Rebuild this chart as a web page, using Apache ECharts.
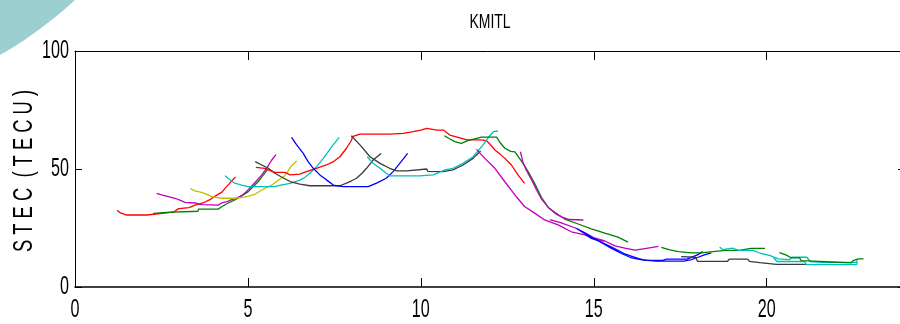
<!DOCTYPE html>
<html>
<head>
<meta charset="utf-8">
<script src="https://cdn.jsdelivr.net/npm/echarts@6/dist/echarts.min.js"></script>
<style>
  html, body { margin: 0; padding: 0; background: #ffffff; }
  #chart { width: 900px; height: 324px; }
</style>
</head>
<body>
<div id="chart"></div>
<script>
// Slant TEC per satellite pass, [local time (h), STEC (TECU)]
const redA = [[1.22,32.5],[1.3,31.5],[1.49,30.5],[2.07,30.5],[2.1,31],[2.6,31.3],[2.85,31.8],[3.0,33.2],[3.3,33.6],[3.45,34.6],[3.7,35.6],[3.9,37],[4.05,38.5],[4.25,40.2],[4.35,42],[4.45,43.6],[4.55,45.3],[4.64,46.6]];
const greenA = [[2.26,31.2],[2.65,31.6],[2.66,32.1],[3.56,32.1],[3.57,33],[4.14,33],[4.24,34],[4.42,35.5],[4.62,36.9],[4.82,38.6],[5.01,40.4],[5.15,42.5],[5.3,44.7],[5.42,47],[5.56,49.6]];
const magentaA = [[2.36,39.7],[2.5,39],[2.7,38.3],[2.89,37.6],[3.05,36.7],[3.18,35.9],[3.47,35.6],[3.66,34.9],[4.14,34.7],[4.24,35.6],[4.4,36.2],[4.53,37],[4.68,37.8],[4.82,38.7],[4.96,40.5],[5.1,42.6],[5.25,45],[5.4,47.5],[5.55,50.5],[5.68,53.6],[5.81,56.1]];
const yellowA = [[3.34,41.7],[3.47,40.7],[3.66,40.1],[3.85,39],[3.95,38.3],[4.24,37.6],[4.62,37.6],[4.91,38.1],[5.2,39.3],[5.39,41],[5.55,42.2],[5.68,43.1],[5.88,45.2],[6.05,47],[6.15,48.9],[6.26,51.4],[6.41,53.4]];
const cyanA = [[4.34,47.2],[4.43,46],[4.62,44],[4.82,43.2],[5.01,42.5],[5.78,42.5],[5.95,43.2],[6.22,43.9],[6.5,45.3],[6.65,46.5],[6.79,48.2],[6.98,50.9],[7.18,54.5],[7.42,59.4],[7.64,63.4]];
const blackA = [[5.21,53.1],[5.4,51.7],[5.59,50.3],[5.78,48.2],[5.97,46.6],[6.22,44.7],[6.5,43.6],[6.79,42.9],[7.66,42.9],[7.85,44],[8.0,45],[8.14,46.1],[8.3,48.2],[8.43,50.3],[8.62,53.8],[8.85,56.6]];
const redB = [[5.23,50.7],[5.49,50.3],[5.59,49.6],[5.78,48.6],[6.07,48.6],[6.22,47.5],[6.5,47.8],[6.69,48.9],[6.98,50.3],[7.27,51.7],[7.47,53.1],[7.66,55.2],[7.85,58.8],[8.0,62.3],[8.02,63.7],[8.24,64.8],[9.1,64.8],[9.49,65.1],[9.78,65.8],[10.0,66.5],[10.17,67.2],[10.46,66.5],[10.65,66.5],[10.84,64.4],[11.1,63.3],[11.33,62.3],[11.71,62.3],[11.9,62],[12.0,60.5],[12.14,58.1],[12.3,56.2],[12.43,54.5],[12.62,51.7],[12.81,47.5],[13.0,43.9]];
const blueA = [[6.26,63.4],[6.41,60.2],[6.6,56.6],[6.74,53.1],[6.89,50.3],[7.08,47.5],[7.27,45.4],[7.47,43.2],[7.76,42.5],[8.48,42.5],[8.72,44],[9.0,46.1],[9.2,48.9],[9.39,52.4],[9.62,56.6]];
const blackB = [[7.99,64.1],[8.24,60.2],[8.53,55.2],[8.82,52.4],[9.1,50.3],[9.3,49.2],[9.59,49.2],[9.62,50],[10.17,50],[10.2,49],[10.65,48.9],[10.93,49.6],[11.22,51.7],[11.51,54.5],[11.73,57.6]];
const cyanB = [[8.45,55.2],[8.62,52.4],[8.82,50.3],[9.0,48.2],[9.1,47.1],[9.97,47.1],[10.0,47.6],[10.36,47.5],[10.7,49.6],[10.93,50.3],[11.22,52.4],[11.51,55.2],[11.8,60.2],[11.99,64.1],[12.1,65.8],[12.23,66.1]];
const greenB = [[10.68,64.1],[10.84,62.7],[10.98,61.6],[11.17,60.9],[11.36,62],[11.75,63.5],[12.19,63.5],[12.3,61],[12.43,58.8],[12.6,57.5],[12.72,57.3],[12.91,53.3],[13.1,49],[13.3,43.6],[13.49,37.9],[13.68,33.8],[13.87,31.7],[14.16,28.8],[14.55,26.7],[14.93,24.6],[15.32,22.8],[15.7,21.1],[15.99,19]];
const magentaB = [[11.61,58.3],[11.85,54.5],[12.14,50.3],[12.43,44.6],[12.72,39],[13.0,34.1],[13.3,31.2],[13.58,28.4],[13.97,26.3],[14.35,23.4],[14.74,22.1],[15.0,20.5],[15.3,19.3]];
const magentaC = [[12.88,57.3],[12.95,53],[13.05,49.5],[13.2,45.5],[13.35,41],[13.5,37],[13.7,33.5],[13.9,31],[14.1,29.5],[14.3,28.6],[14.7,28.4]];
const magentaD = [[13.73,28.5],[14.06,27.2],[14.45,25.1],[14.75,23],[14.99,20.9],[15.32,19.5],[15.61,17.4],[15.9,16.5],[16.19,15.6],[16.48,16.3],[16.87,17.2]];
const blueB = [[14.5,24.9],[14.7,23],[14.93,20.6],[15.15,19.5],[15.32,18.3],[15.5,17],[15.7,15.5],[15.9,14],[16.1,13],[16.3,12],[16.5,11.3],[17.0,11.3],[17.1,11.8],[17.7,11.8],[17.85,12.8],[18.0,13.6],[18.15,15]];
const blueC = [[14.6,24],[14.9,21.5],[15.2,19],[15.5,16.5],[15.8,14.2],[16.1,12.3],[16.4,11.5],[16.8,11],[17.6,11],[17.8,11.5],[18.0,12.5],[18.2,13.6],[18.4,14.5]];
const greenC = [[16.95,16.8],[17.2,15.7],[17.45,15],[17.8,14.5],[18.1,14.5],[18.45,15],[18.8,15.5],[19.2,15.5],[19.55,16.4],[19.95,16.4]];
const blackC = [[17.53,12.9],[17.95,12.6],[18.0,10.9],[18.87,10.9],[18.92,11.8],[19.45,11.8],[19.5,10.9],[19.8,10.3],[20.28,9.6],[21.14,9.6]];
const cyanC = [[18.64,16.9],[18.74,15.8],[19.0,16.5],[19.2,15.5],[19.6,15.5],[19.8,14.4],[20.1,13.3],[20.34,11.9],[20.67,11.6],[20.72,12.6],[21.16,12.6],[21.26,10.8],[21.6,10.4],[22.6,10.4],[22.62,11.4]];
const cyanD = [[20.2,12.4],[20.3,10.8],[21.1,10.8],[21.15,9.5],[22.6,9.5],[22.62,10.4]];
const greenD = [[20.37,14.6],[20.57,13.5],[20.72,12.3],[20.95,12.3],[21.0,11.2],[21.34,11],[21.87,10.6],[21.9,10.2],[22.45,10.2],[22.5,11.2],[22.65,11.9],[22.8,11.9]];

const xTicks = [0, 5, 10, 15, 20];
const yTicks = [0, 50, 100];
const titleText = 'KMITL';
const yName = 'S T E C  ( T E C U )';

// MATLAB-style line colours
const C = {
  b: '#0000ff', g: '#008000', r: '#ff0000', c: '#00bfbf',
  m: '#bf00bf', y: '#bfbf00', k: '#3a3a3a'
};

const passes = [
  [redA, C.r], [greenA, C.g], [magentaA, C.m], [yellowA, C.y], [cyanA, C.c],
  [blackA, C.k], [redB, C.r], [blueA, C.b], [blackB, C.k], [cyanB, C.c],
  [greenB, C.g], [magentaB, C.m], [magentaC, C.m], [magentaD, C.m],
  [blueB, C.b], [blueC, C.b], [greenC, C.g], [blackC, C.k], [cyanC, C.c],
  [cyanD, C.c], [greenD, C.g]
];

// Arial-metric face, squeezed horizontally to a condensed look
const FONT = "'Liberation Sans', Arial, sans-serif";
const SQUEEZE = 0.62;

const chart = echarts.init(document.getElementById('chart'), null, { renderer: 'canvas' });

const tickStyle = { color: '#000', width: 1 };
const lineStyleAxis = { color: '#000', width: 1 };

chart.setOption({
  animation: false,
  backgroundColor: '#ffffff',
  grid: { left: 75, top: 51, width: 830, height: 236, outerBoundsMode: 'none', containLabel: false },
  xAxis: [
    {
      type: 'value', position: 'bottom', min: 0, max: 24, interval: 5,
      axisLine: { show: true, onZero: false, lineStyle: { color: '#000', width: 1.5 } },
      axisTick: { show: true, inside: true, length: 9, lineStyle: tickStyle },
      axisLabel: { show: false }, splitLine: { show: false }
    },
    {
      type: 'value', position: 'top', min: 0, max: 24, interval: 5,
      axisLine: { show: true, onZero: false, lineStyle: lineStyleAxis },
      axisTick: { show: true, inside: true, length: 9, lineStyle: tickStyle },
      axisLabel: { show: false }, splitLine: { show: false }
    }
  ],
  yAxis: [
    {
      type: 'value', position: 'left', min: 0, max: 100, interval: 50,
      axisLine: { show: true, onZero: false, lineStyle: lineStyleAxis },
      axisTick: { show: true, inside: true, length: 7, lineStyle: tickStyle },
      axisLabel: { show: false }, splitLine: { show: false }
    },
    {
      type: 'value', position: 'right', min: 0, max: 100, interval: 50,
      axisLine: { show: true, onZero: false, lineStyle: lineStyleAxis },
      axisTick: { show: true, inside: true, length: 7, lineStyle: tickStyle },
      axisLabel: { show: false }, splitLine: { show: false }
    }
  ],
  series: passes.map(([data, color]) => ({
    type: 'line',
    data: data,
    xAxisIndex: 0,
    yAxisIndex: 0,
    showSymbol: false,
    symbol: 'none',
    lineStyle: { color: color, width: 1.3 },
    z: 2
  }))
});

// Tick labels, title and axis name as condensed text placed from the axis scales
const gx = v => chart.convertToPixel({ xAxisIndex: 0 }, v);
const gy = v => chart.convertToPixel({ yAxisIndex: 0 }, v);
const plotLeft = gx(0), plotBottom = gy(0), plotTop = gy(100);
const plotMidX = (gx(0) + gx(24)) / 2;
const plotMidY = (plotTop + plotBottom) / 2;

const graphics = [{
  type: 'circle',
  shape: { cx: -200, cy: -296, r: 404 },
  style: { fill: '#9ccfcf' },
  silent: true,
  z: 0
}];

xTicks.forEach(v => graphics.push({
  type: 'text',
  x: gx(v), y: plotBottom + 10,
  scaleX: SQUEEZE,
  style: { text: String(v), font: "26px " + FONT, fill: '#000', align: 'center', verticalAlign: 'top' },
  z: 5
}));

yTicks.forEach(v => graphics.push({
  type: 'text',
  x: plotLeft - 6, y: gy(v),
  scaleX: SQUEEZE,
  style: { text: String(v), font: "26px " + FONT, fill: '#000', align: 'right', verticalAlign: 'middle' },
  z: 5
}));

graphics.push({
  type: 'text',
  x: plotMidX, y: 22,
  scaleX: 0.7,
  style: { text: titleText, font: "20px " + FONT, fill: '#000', align: 'center', verticalAlign: 'middle' },
  z: 5
});

graphics.push({
  type: 'text',
  x: 25, y: plotMidY + 2,
  rotation: Math.PI / 2,
  scaleX: 0.68,
  style: { text: yName, font: "27px " + FONT, fill: '#000', align: 'center', verticalAlign: 'middle' },
  z: 5
});

chart.setOption({ graphic: graphics });
</script>
</body>
</html>
